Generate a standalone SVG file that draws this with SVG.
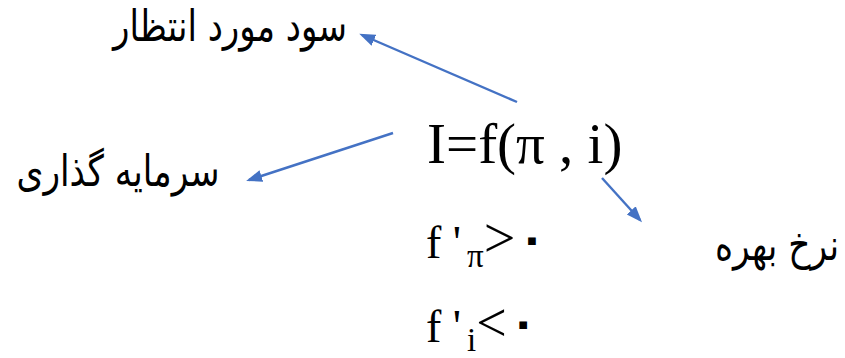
<svg xmlns="http://www.w3.org/2000/svg" width="845" height="358" viewBox="0 0 845 358">
  <style>
    .fa { font-family: "DejaVu Sans", "Noto Sans", sans-serif; font-size: 43px; fill: #000; text-anchor: middle; }
    .math { font-family: "Liberation Serif", "Times New Roman", "DejaVu Serif", serif; fill: #000; }
    .zero { font-family: "DejaVu Sans", sans-serif; font-size: 44px; font-weight: bold; }
    .conn { stroke: #4472C4; stroke-width: 2.4; fill: none; marker-end: url(#arrow); }
  </style>
  <defs>
    <marker id="arrow" markerWidth="16" markerHeight="14" refX="13" refY="6" orient="auto" markerUnits="userSpaceOnUse" viewBox="0 0 16 12">
      <path d="M0,0 L16,6 L0,12 Z" fill="#4472C4"/>
    </marker>
  </defs>
  <rect width="845" height="358" fill="#fff"/>

  <g id="expected-profit">
    <text class="fa" x="230" y="41" direction="rtl" textLength="234" lengthAdjust="spacingAndGlyphs">سود مورد انتظار</text>
  </g>
  <g id="investment">
    <text class="fa" x="118" y="186" direction="rtl" textLength="203" lengthAdjust="spacingAndGlyphs">سرمایه گذاری</text>
  </g>
  <g id="interest-rate">
    <text class="fa" transform="translate(777,260) scale(0.8,1)" x="0" y="0" direction="rtl">نرخ بهره</text>
  </g>
  <g id="equation">
    <text class="math" x="427" y="163" font-size="57">I=f(π , i)</text>
  </g>
  <g id="derivative-pi">
    <text class="math" x="426" y="258" font-size="46">f '<tspan font-size="33" dx="6" dy="9">π</tspan><tspan dy="-10" font-size="56">&gt;</tspan><tspan class="zero" dx="3" dy="-3">۰</tspan></text>
  </g>
  <g id="derivative-i">
    <text class="math" x="426" y="342" font-size="46">f '<tspan font-size="33" dx="6" dy="9">i</tspan><tspan dy="-10" font-size="54">&lt;</tspan><tspan class="zero" dx="3" dy="-3">۰</tspan></text>
  </g>

  <g id="connectors">
    <line class="conn" x1="517" y1="102" x2="362" y2="35"/>
    <line class="conn" x1="393" y1="133" x2="249" y2="180"/>
    <line class="conn" x1="602" y1="178" x2="640" y2="220"/>
  </g>
</svg>
